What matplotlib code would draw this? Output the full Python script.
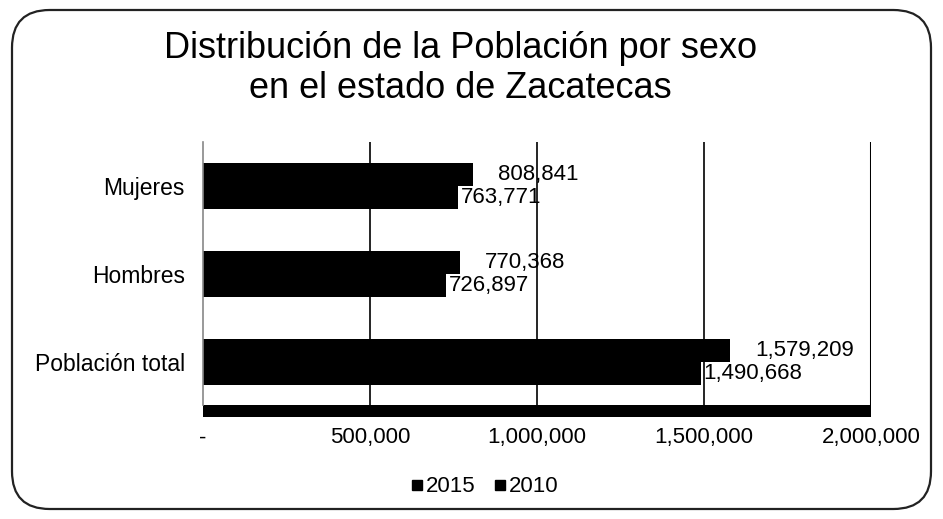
import matplotlib
matplotlib.use("Agg")
import matplotlib.pyplot as plt
from matplotlib.patches import FancyBboxPatch, Rectangle
from matplotlib.lines import Line2D
import numpy as np

plt.rcParams['font.family'] = ['Liberation Sans', 'DejaVu Sans']

categories = ["Población total", "Hombres", "Mujeres"]
series_names = ["2015", "2010"]
values_2015 = [1579209, 770368, 808841]
values_2010 = [1490668, 726897, 763771]
x_ticks = [0, 500000, 1000000, 1500000, 2000000]
x_tick_labels = ["-", "500,000", "1,000,000", "1,500,000", "2,000,000"]

W, H = 943, 519
fig = plt.figure(figsize=(W / 100, H / 100), dpi=100)

# rounded outer frame
frame = FancyBboxPatch((12 / W, 10 / H), (W - 24) / W, (H - 20) / H,
                       boxstyle="round,pad=0,rounding_size=0.04",
                       transform=fig.transFigure, facecolor="none",
                       edgecolor="#222222", linewidth=1.6, mutation_aspect=W / H,
                       zorder=5)
fig.patches.append(frame)

ax = fig.add_axes([203 / W, 1 - 405 / H, (871 - 203) / W, (405 - 142) / H])
ax.set_facecolor("none")

y = np.arange(len(categories))
h = 0.26
ax.barh(y + h / 2, values_2015, height=h, color="black", label="2015", zorder=2)
ax.barh(y - h / 2, values_2010, height=h, color="black", label="2010", zorder=2)

ax.set_xlim(0, 2000000)
ax.set_ylim(-0.49, 2.5)

# value labels
for yi, v in zip(y, values_2015):
    ax.annotate(f"{v:,}", (v, yi + h / 2), xytext=(18, 0), textcoords="offset points",
                va="center", ha="left", fontsize=16)
for yi, v in zip(y, values_2010):
    ax.annotate(f"{v:,}", (v, yi - h / 2), xytext=(2, 0), textcoords="offset points",
                va="center", ha="left", fontsize=16)

# gridlines
for xv in x_ticks[1:-1]:
    ax.axvline(xv, color="black", linewidth=1.2, zorder=1)
ax.axvline(x_ticks[-1], color="black", linewidth=2.2, zorder=3)

for s in ["top", "right", "bottom"]:
    ax.spines[s].set_visible(False)
ax.spines["left"].set_color("#888888")
ax.spines["left"].set_linewidth(1.2)

# floor of the chart
ax.add_patch(Rectangle((0, -0.045), 1, 0.045, transform=ax.transAxes,
                       facecolor="black", edgecolor="none", clip_on=False))

ax.set_xticks(x_ticks)
ax.set_xticklabels(x_tick_labels, fontsize=16)
ax.set_yticks(y)
ax.set_yticklabels(categories, fontsize=16.5)
ax.tick_params(axis="x", length=0, pad=16)
ax.tick_params(axis="y", length=0, pad=13)

fig.text(0.488, 1 - 48 / H, "Distribución de la Población por sexo", ha="center",
         va="center", fontsize=26)
fig.text(0.488, 1 - 89 / H, "en el estado de Zacatecas", ha="center",
         va="center", fontsize=26)

handles = [Line2D([], [], marker="s", linestyle="none", color="black", markersize=7)
           for _ in series_names]
fig.legend(handles, series_names, loc="center", bbox_to_anchor=(484 / W, 1 - 487 / H),
           ncol=2, frameon=False, fontsize=16, handlelength=0.6, handletextpad=0.1,
           columnspacing=0.8)

fig.savefig("out.png", dpi=100)
